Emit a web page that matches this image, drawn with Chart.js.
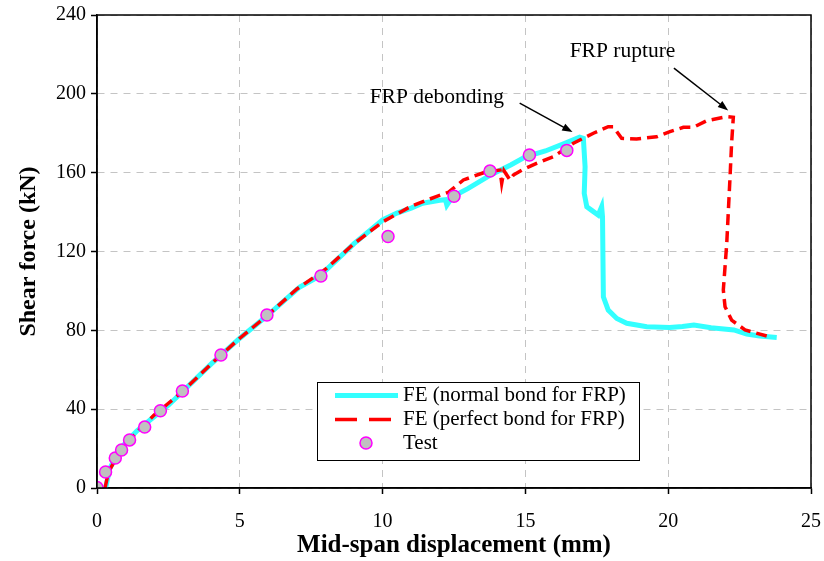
<!DOCTYPE html>
<html>
<head>
<meta charset="utf-8">
<script src="https://cdn.jsdelivr.net/npm/chart.js@4.4.1/dist/chart.umd.min.js"></script>
<style>
  html, body { margin: 0; padding: 0; background: #fff; }
  #wrap { width: 824px; height: 561px; }
</style>
</head>
<body>
<div id="wrap"><canvas id="chart" width="824" height="561"></canvas></div>
<script>
// FE curve, normal bond for FRP (mm, kN)
const normalX = [0.3, 0.45, 0.7, 1.0, 1.4, 1.9, 2.5, 3.0, 4.0, 5.0, 6.0, 7.1, 7.8, 9.0, 10.0, 10.5, 11.0, 11.4, 12.0, 12.2, 12.25, 12.45, 13.0, 13.8, 14.5, 15.0, 15.7, 16.4, 16.9, 17.03, 17.09, 17.06, 17.15, 17.31, 17.55, 17.67, 17.7, 17.73, 17.9, 18.2, 18.55, 19.25, 20.05, 20.5, 20.9, 21.5, 22.3, 22.75, 23.2, 23.8];
const normalY = [0, 10, 17, 23, 29, 35, 42, 49, 63, 76, 88, 102, 107.6, 124, 136, 139.5, 142, 144.5, 146, 146.3, 143.5, 147.8, 152, 159, 164, 168, 171, 175, 178, 177.4, 163, 149.5, 142.7, 141, 138.5, 142.7, 137.6, 97, 90.3, 86, 83.6, 81.8, 81.5, 82, 82.7, 81.3, 80.2, 78.1, 77.1, 76.4];

// FE curve, perfect bond for FRP
const perfectX = [0.28, 0.4, 0.7, 1.0, 1.5, 2.0, 2.5, 3.0, 4.0, 5.0, 6.0, 7.0, 8.0, 9.0, 10.0, 11.0, 11.9, 12.3, 12.83, 13.64, 14.11, 14.17, 14.25, 14.46, 14.58, 14.87, 15.39, 15.98, 16.68, 17.38, 17.9, 18.08, 18.37, 18.89, 19.59, 20.06, 20.53, 20.88, 21.35, 22.05, 22.28, 22.22, 22.16, 22.05, 21.93, 21.99, 22.22, 22.69, 23.45];
const perfectY = [0, 8, 16, 22, 30, 37, 43, 49, 63, 76, 88, 101, 111, 124, 135, 143, 148, 150, 156.3, 160.5, 161.3, 154.6, 161, 156.3, 158.8, 161.3, 164.7, 168.1, 174.9, 180, 183.3, 183.3, 177.4, 177.1, 178.2, 180.8, 183, 183, 186.4, 188.4, 188.1, 174.9, 156.3, 124.1, 100.5, 92, 85.2, 80.2, 77.1];

// test results
const testX = [0, 0.3, 0.64, 0.86, 1.14, 1.67, 2.22, 2.99, 4.34, 5.95, 7.84, 10.19, 12.5, 13.76, 15.14, 16.45];
const testY = [0.3, 8.1, 15.2, 19.3, 24.4, 30.9, 39.2, 49.2, 67.5, 87.8, 107.6, 127.6, 148, 160.8, 169, 171.3];

const xTicks = [0, 5, 10, 15, 20, 25];
const yTicks = [0, 40, 80, 120, 160, 200, 240];

const seriesLabels = ['FE (normal bond for FRP)', 'FE (perfect bond for FRP)', 'Test'];

// annotation text + arrow (data units)
const notes = [
  { text: 'FRP debonding', at: [11.9, 198], from: [14.8, 195.3], to: [16.65, 180.6] },
  { text: 'FRP rupture', at: [18.4, 221.5], from: [20.2, 213], to: [22.1, 191.6] }
];

const serif = "'Liberation Serif', 'Times New Roman', serif";

const toPoints = (xs, ys) => xs.map((x, i) => ({ x, y: ys[i] }));

const drawArrow = (ctx, x1, y1, x2, y2) => {
  const ang = Math.atan2(y2 - y1, x2 - x1);
  const head = 11;
  ctx.beginPath();
  ctx.moveTo(x1, y1);
  ctx.lineTo(x2 - Math.cos(ang) * head * 0.8, y2 - Math.sin(ang) * head * 0.8);
  ctx.stroke();
  ctx.beginPath();
  ctx.moveTo(x2, y2);
  ctx.lineTo(x2 - head * Math.cos(ang - 0.35), y2 - head * Math.sin(ang - 0.35));
  ctx.lineTo(x2 - head * Math.cos(ang + 0.35), y2 - head * Math.sin(ang + 0.35));
  ctx.closePath();
  ctx.fill();
};

// frame, notes and legend box
const extras = {
  id: 'extras',
  afterDraw(chart) {
    const { ctx, chartArea: a, scales: { x, y } } = chart;
    ctx.save();

    ctx.strokeStyle = '#000';
    ctx.lineWidth = 1.5;
    ctx.strokeRect(a.left, a.top, a.right - a.left, a.bottom - a.top);

    ctx.font = '21.5px ' + serif;
    ctx.fillStyle = '#000';
    ctx.textAlign = 'center';
    ctx.textBaseline = 'middle';
    notes.forEach(n => {
      ctx.fillText(n.text, x.getPixelForValue(n.at[0]), y.getPixelForValue(n.at[1]));
      ctx.lineWidth = 1.5;
      drawArrow(ctx,
        x.getPixelForValue(n.from[0]), y.getPixelForValue(n.from[1]),
        x.getPixelForValue(n.to[0]), y.getPixelForValue(n.to[1]));
    });

    // legend
    const bx = 317, by = 382, bw = 322, bh = 78;
    ctx.fillStyle = '#fff';
    ctx.fillRect(bx, by, bw, bh);
    ctx.strokeStyle = '#000';
    ctx.lineWidth = 1;
    ctx.strokeRect(bx + 0.5, by + 0.5, bw, bh);

    const rows = [395.5, 419.5, 443];
    const ds = chart.data.datasets;
    ctx.textAlign = 'left';
    ctx.font = '21px ' + serif;
    rows.forEach((ry, i) => {
      const d = ds[i];
      if (i < 2) {
        ctx.strokeStyle = d.borderColor;
        ctx.lineWidth = d.borderWidth;
        ctx.setLineDash(i === 1 ? [22, 12] : []);
        ctx.beginPath();
        ctx.moveTo(335, ry);
        ctx.lineTo(398, ry);
        ctx.stroke();
        ctx.setLineDash([]);
      } else {
        ctx.beginPath();
        ctx.arc(366, ry, 6, 0, Math.PI * 2);
        ctx.fillStyle = d.backgroundColor;
        ctx.fill();
        ctx.lineWidth = 1.5;
        ctx.strokeStyle = d.borderColor;
        ctx.stroke();
      }
      ctx.fillStyle = '#000';
      ctx.fillText(d.label, 403, ry);
    });

    ctx.restore();
  }
};

const axisBase = {
  border: { display: true, color: '#000', width: 1.5, dash: [7, 6] },
  grid: {
    color: '#c4c4c4', lineWidth: 1, drawTicks: true,
    tickLength: 6, tickColor: '#000', tickWidth: 1.5, tickBorderDash: []
  }
};

new Chart(document.getElementById('chart'), {
  type: 'scatter',
  data: {
    datasets: [{
      label: seriesLabels[0],
      data: toPoints(normalX, normalY),
      showLine: true,
      borderColor: '#33ffff',
      backgroundColor: '#33ffff',
      borderWidth: 5,
      pointRadius: 0,
      tension: 0,
      order: 2
    }, {
      label: seriesLabels[1],
      data: toPoints(perfectX, perfectY),
      showLine: true,
      borderColor: '#ff0000',
      backgroundColor: '#ff0000',
      borderWidth: 3.5,
      borderDash: [11, 6],
      pointRadius: 0,
      tension: 0,
      order: 1
    }, {
      label: seriesLabels[2],
      data: toPoints(testX, testY),
      showLine: false,
      backgroundColor: '#c0c0c0',
      borderColor: '#ff00ff',
      borderWidth: 1.5,
      pointRadius: 6,
      order: 0
    }]
  },
  options: {
    responsive: false,
    animation: false,
    layout: { padding: { left: 0, top: 15, right: 13, bottom: 0 } },
    plugins: {
      legend: { display: false },
      tooltip: { enabled: false }
    },
    scales: {
      x: {
        ...axisBase,
        type: 'linear',
        min: 0, max: 25,
        afterBuildTicks: s => { s.ticks = xTicks.map(v => ({ value: v })); },
        afterFit: s => { s.height = 73; s.paddingLeft = 0; s.paddingRight = 0; },
        ticks: { color: '#000', font: { family: serif, size: 20 }, padding: 16, maxRotation: 0 },
        title: {
          display: true, text: 'Mid-span displacement (mm)', color: '#000',
          font: { family: serif, size: 25, weight: 'bold' },
          padding: { top: 0, bottom: 0 }
        }
      },
      y: {
        ...axisBase,
        type: 'linear',
        min: 0, max: 240,
        afterBuildTicks: s => { s.ticks = yTicks.map(v => ({ value: v })); },
        afterFit: s => { s.width = 97; s.paddingTop = 0; s.paddingBottom = 0; },
        ticks: { color: '#000', font: { family: serif, size: 20 }, padding: 5 },
        title: {
          display: true, text: 'Shear force (kN)', color: '#000',
          font: { family: serif, size: 24, weight: 'bold' },
          padding: { top: 14, bottom: 0 }
        }
      }
    }
  },
  plugins: [extras]
});
</script>
</body>
</html>
